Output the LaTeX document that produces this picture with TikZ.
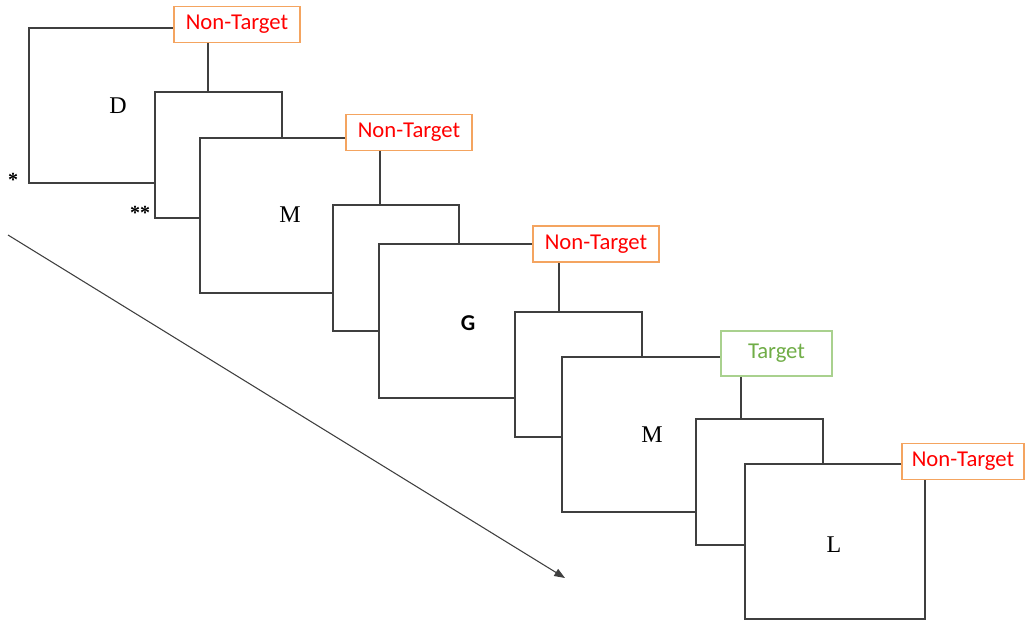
\documentclass[tikz,border=0pt]{standalone}
\usepackage{fontspec}
\setmainfont{Liberation Serif}
\newfontfamily\calib{Carlito}
\usetikzlibrary{arrows.meta}
\definecolor{framegray}{HTML}{3F3F3F}
\definecolor{nonred}{HTML}{FF0000}
\definecolor{nonorange}{HTML}{F4A460}
\definecolor{targreen}{HTML}{70AD47}
\definecolor{targreenlt}{HTML}{A9D18E}
\tikzset{
  px/.style={x=0.75pt,y=-0.75pt},
  frame/.style={draw=framegray,fill=white,line width=0.8pt},
  letter/.style={font=\fontsize{18}{20}\selectfont,inner sep=0pt},
  nontarget/.style={draw=nonorange,fill=white,line width=0.9pt,text=nonred,
     font=\calib\fontsize{17}{19}\selectfont,inner sep=0pt,minimum height=27pt,minimum width=94.5pt},
  targetlbl/.style={draw=targreenlt,fill=white,line width=0.9pt,text=targreen,
     font=\calib\fontsize{17}{19}\selectfont,inner sep=0pt,minimum height=33.75pt,minimum width=83.25pt},
  star/.style={font=\bfseries\fontsize{15}{16}\selectfont,inner sep=0pt},
}
\begin{document}
\begin{tikzpicture}[px]
\useasboundingbox (0,0) rectangle (1026,621);
% big frame 1
\filldraw[frame] (29,28) rectangle (208,183);
\node[letter] (l1) at (118,106) {D};
\node[nontarget] (t1) at (237,24.5) {Non-Target};
% small frame 1
\filldraw[frame] (155,92) rectangle (282,218);
% big frame 2
\filldraw[frame] (200,138) rectangle (380,293);
\node[letter] (l2) at (290,215) {M};
\node[nontarget] (t2) at (409,132.5) {Non-Target};
% small frame 2
\filldraw[frame] (333,205) rectangle (459,331);
% big frame 3
\filldraw[frame] (379,244) rectangle (559,398);
\node[letter,font=\calib\bfseries\fontsize{17}{18}\selectfont] (l3) at (468,323) {G};
\node[nontarget] (t3) at (596,244) {Non-Target};
% small frame 3
\filldraw[frame] (515,312) rectangle (642,437);
% big frame 4
\filldraw[frame] (562,357) rectangle (741,512);
\node[letter] (l4) at (652,435) {M};
\node[targetlbl] (t4) at (776.5,353.5) {Target};
% small frame 4
\filldraw[frame] (696,419) rectangle (823,545);
% big frame 5
\filldraw[frame] (745,464) rectangle (925,619);
\node[letter] (l5) at (834,545) {L};
\node[nontarget,minimum width=91.5pt] (t5) at (963,461.5) {Non-Target};
% asterisks
\node[star] (s1) at (13,180) {*};
\node[star] (s2) at (140,213) {**};
% time arrow
\coordinate (a0) at (8,235);
\coordinate (a1) at (565,578);
\draw[framegray,line width=0.8pt,-{Triangle[length=8pt,width=6pt]}] (a0) -- (a1);
\end{tikzpicture}
\end{document}
